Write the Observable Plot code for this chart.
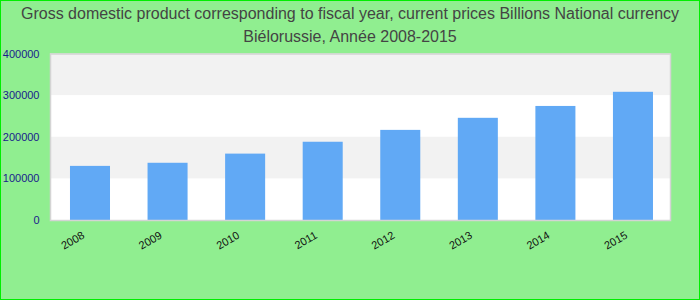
<!DOCTYPE html>
<html>
<head>
<meta charset="utf-8">
<script src="https://cdn.jsdelivr.net/npm/d3@7"></script>
<script src="https://cdn.jsdelivr.net/npm/@observablehq/plot@0.6"></script>
<style>
  html, body { margin: 0; padding: 0; background: #90ee90; }
  #chart {
    position: relative;
    width: 700px; height: 300px;
    box-sizing: border-box;
    border: 1px solid #00ee00;
    background: #90ee90;
    font-family: "Liberation Sans", Arial, sans-serif;
  }
  #title {
    position: absolute; left: 0; right: 0; top: 1px;
    text-align: center;
    font-size: 16px; line-height: 23px;
    color: #444;
  }
  #plot { position: absolute; left: 0; top: 44px; }
</style>
</head>
<body>
<div id="chart">
  <div id="title">Gross domestic product corresponding to fiscal year, current prices Billions National currency<br>Biélorussie, Année 2008-2015</div>
  <div id="plot"></div>
</div>
<script>
// GDP by fiscal year, current prices (billions of national currency)
const years = ["2008", "2009", "2010", "2011", "2012", "2013", "2014", "2015"];
const gdp = [130000, 137500, 159500, 188000, 216500, 245500, 274000, 308000];
const yTicks = [0, 100000, 200000, 300000, 400000];
// alternating shaded horizontal bands
const bandLow = [100000, 300000];
const bandHigh = [200000, 400000];

const rows = years.map((year, i) => ({year, value: gdp[i]}));
const bands = bandLow.map((lo, i) => ({lo, hi: bandHigh[i]}));

const chart = Plot.plot({
  width: 698,
  height: 254,
  marginLeft: 49,
  marginRight: 29,
  marginTop: 8.5,
  marginBottom: 79,
  style: {background: "transparent", fontFamily: "Liberation Sans, Arial, sans-serif"},
  x: {domain: years, paddingInner: 0.484, paddingOuter: 0.2385, align: 0.54, round: false, label: null},
  y: {domain: [0, 400000], label: null},
  marks: [
    Plot.frame({fill: "white", stroke: null}),
    Plot.rectY(bands, {y1: "lo", y2: "hi", fill: "#f2f2f2"}),
    Plot.barY(rows, {x: "year", y: "value", fill: "#61a9f5"}),
    Plot.frame({stroke: "#d4d4d4", strokeWidth: 1.5}),
    Plot.axisY({ticks: yTicks, tickSize: 0, tickPadding: 11, tickFormat: d => String(d),
      fill: "#1a1a8c", fontSize: 11, label: null}),
    Plot.axisX({tickSize: 0, tickRotate: -30, tickPadding: 14, dx: -7, fill: "#111",
      fontSize: 11, label: null})
  ]
});
document.getElementById("plot").appendChild(chart);
</script>
</body>
</html>
